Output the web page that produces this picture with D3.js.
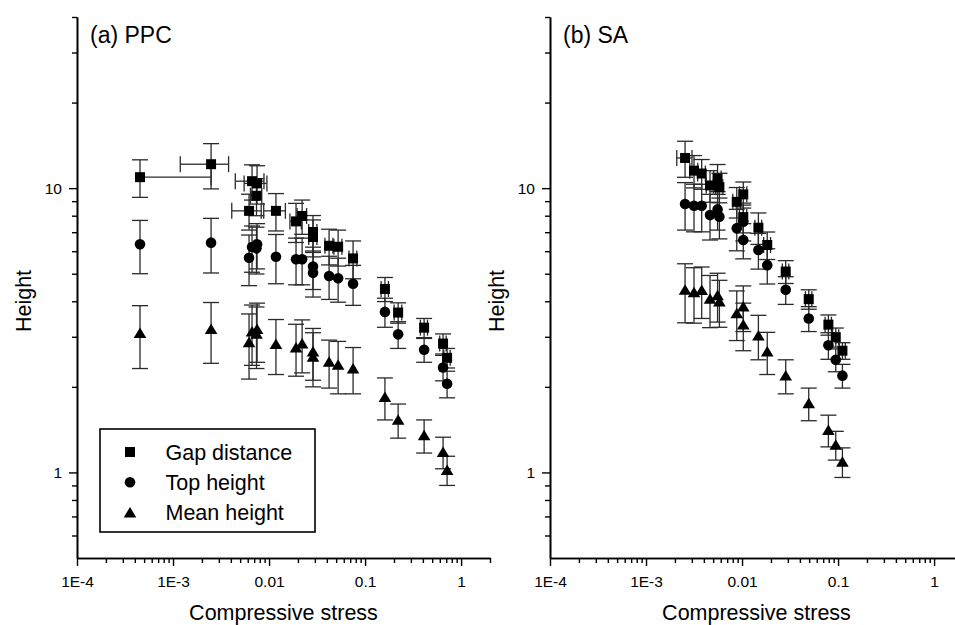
<!DOCTYPE html>
<html>
<head>
<meta charset="utf-8">
<script src="https://cdn.jsdelivr.net/npm/d3@7"></script>
<style>
  html, body { margin: 0; padding: 0; background: #fff; }
  svg { display: block; font-family: "Liberation Sans", Arial, Helvetica, sans-serif; }
</style>
</head>
<body>
<svg id="chart" width="955" height="625"></svg>
<script>
// ---- Panel (a): PPC ----
const ppcStress    = [4.53e-4, 2.49e-3, 6.19e-3, 6.65e-3, 7.5e-3, 7.4e-3, 0.0118, 0.0191, 0.0221, 0.0287, 0.0287, 0.0422, 0.0524, 0.075, 0.161, 0.221, 0.412, 0.649, 0.715];
const ppcStressErr = [2.04e-3, 1.3e-3, 2.1e-3, 2.2e-3, 2.0e-3, 1.0e-3, 3.0e-3, 2.6e-3, 2.5e-3, 2.8e-3, 2.8e-3, 4e-3, 5e-3, 7e-3, 0.014, 0.02, 0.035, 0.05, 0.055];
const ppcGap       = [10.93, 12.14, 8.32, 10.58, 10.39, 9.40, 8.32, 7.64, 7.98, 7.01, 6.73, 6.27, 6.22, 5.66, 4.42, 3.65, 3.23, 2.84, 2.53];
const ppcGapErr    = [1.65, 2.2, 1.2, 1.5, 1.6, 1.4, 1.25, 1.2, 1.1, 1.0, 1.0, 0.9, 0.9, 0.86, 0.43, 0.3, 0.25, 0.23, 0.2];
const ppcTop       = [6.35, 6.43, 5.69, 6.21, 6.35, 6.14, 5.74, 5.62, 5.62, 5.30, 5.04, 4.91, 4.82, 4.61, 3.67, 3.06, 2.70, 2.34, 2.05];
const ppcTopErr    = [1.35, 1.4, 1.15, 1.15, 1.15, 1.15, 1.13, 1.05, 1.05, 0.9, 0.9, 0.85, 0.85, 0.74, 0.43, 0.33, 0.26, 0.24, 0.22];
const ppcMean      = [3.09, 3.19, 2.87, 3.13, 3.19, 3.07, 2.83, 2.75, 2.84, 2.66, 2.55, 2.45, 2.39, 2.32, 1.84, 1.53, 1.35, 1.18, 1.02];
const ppcMeanErr   = [0.77, 0.77, 0.74, 0.75, 0.75, 0.75, 0.62, 0.57, 0.6, 0.55, 0.55, 0.47, 0.5, 0.43, 0.31, 0.21, 0.18, 0.15, 0.12];

// ---- Panel (b): SA ----
const saStress    = [2.55e-3, 3.16e-3, 3.80e-3, 4.64e-3, 5.56e-3, 5.81e-3, 8.81e-3, 0.0103, 0.0103, 0.0148, 0.0183, 0.0285, 0.0495, 0.0793, 0.0946, 0.111];
const saStressErr = [0.46e-3, 0.3e-3, 0.35e-3, 0.4e-3, 0.5e-3, 0.5e-3, 0.8e-3, 0.9e-3, 0.9e-3, 1.2e-3, 1.5e-3, 2.2e-3, 3.8e-3, 6e-3, 7e-3, 8e-3];
const saGap       = [12.77, 11.52, 11.26, 10.22, 10.81, 10.08, 8.95, 9.51, 7.91, 7.26, 6.31, 5.09, 4.07, 3.31, 2.99, 2.68];
const saGapErr    = [1.85, 1.5, 1.35, 1.3, 1.3, 1.2, 1.1, 1.0, 0.95, 0.92, 0.7, 0.47, 0.32, 0.27, 0.23, 0.18];
const saTop       = [8.79, 8.67, 8.67, 8.04, 8.42, 7.93, 7.22, 7.62, 6.57, 6.06, 5.36, 4.39, 3.48, 2.80, 2.49, 2.19];
const saTopErr    = [1.67, 1.65, 1.65, 1.47, 1.3, 1.3, 1.2, 1.1, 0.93, 0.87, 0.76, 0.49, 0.35, 0.3, 0.23, 0.21];
const saMean      = [4.39, 4.30, 4.38, 4.08, 4.20, 3.99, 3.63, 3.83, 3.31, 3.03, 2.66, 2.19, 1.75, 1.41, 1.25, 1.09];
const saMeanErr   = [1.03, 0.95, 0.9, 0.85, 0.82, 0.75, 0.72, 0.7, 0.63, 0.54, 0.45, 0.3, 0.23, 0.18, 0.145, 0.13];

// ---- Axis ticks and labels ----
const xTickValues = [1e-4, 1e-3, 1e-2, 1e-1, 1];
const xTickLabels = ["1E-4", "1E-3", "0.01", "0.1", "1"];
const yTickValues = [1, 10];
const yTickLabels = ["1", "10"];
const seriesNames = ["Gap distance", "Top height", "Mean height"];
const panelTitles = ["(a) PPC", "(b) SA"];
const xTitle = "Compressive stress";
const yTitle = "Height";

// minor ticks: 2..9 in every decade
function minorTicks(lo, hi) {
  const out = [];
  for (let e = Math.floor(Math.log10(lo)); e <= Math.ceil(Math.log10(hi)); e++) {
    for (let m = 2; m <= 9; m++) {
      const v = m * Math.pow(10, e);
      if (v > lo * 1.0001 && v <= hi * 1.0001) out.push(v);
    }
  }
  return out;
}

const svg = d3.select("#chart");
const INK = "#000";
const BAR = "#2a2a2a";
const CAP = 8;          // half width of error bar caps

// marker paths
const markerPath = {
  square: "M-5,-5H5V5H-5Z",
  circle: d3.path(),
  triangle: "M0,-5.6L6.3,4.9L-6.3,4.9Z"
};
(function () { const p = d3.path(); p.arc(0, 0, 5.3, 0, 2 * Math.PI); markerPath.circle = p.toString(); })();
const markerKinds = ["square", "circle", "triangle"];

function drawPanel(cfg) {
  const x = d3.scaleLog().domain([1e-4, 2]).range([cfg.left, cfg.left + 413]);
  const y = d3.scaleLog().domain([0.5, 40]).range([558, 17]);
  const g = svg.append("g");

  // --- axes ---
  const xMajor = d3.axisBottom(x).tickValues(xTickValues)
    .tickFormat((d, i) => xTickLabels[i]).tickSize(8).tickSizeOuter(0).tickPadding(10);
  const xMinor = d3.axisBottom(x).tickValues(minorTicks(1e-4, 2)).tickFormat("").tickSize(5).tickSizeOuter(0);
  const yMajor = d3.axisLeft(y).tickValues(yTickValues)
    .tickFormat((d, i) => yTickLabels[i]).tickSize(8).tickSizeOuter(0).tickPadding(7);
  const yMinor = d3.axisLeft(y).tickValues(minorTicks(0.5, 40).filter(v => v > 0.55)).tickFormat("").tickSize(5).tickSizeOuter(0);

  const ax = [
    g.append("g").attr("transform", "translate(0,558)").call(xMinor),
    g.append("g").attr("transform", "translate(0,558)").call(xMajor),
    g.append("g").attr("transform", `translate(${cfg.left},0)`).call(yMinor),
    g.append("g").attr("transform", `translate(${cfg.left},0)`).call(yMajor)
  ];
  ax.forEach(a => {
    a.selectAll("path.domain").attr("stroke", INK).attr("stroke-width", 1.6);
    a.selectAll(".tick line").attr("stroke", INK).attr("stroke-width", 1.4);
    a.selectAll(".tick text").attr("fill", INK).style("font-size", "15.5px")
      .style("font-family", '"Liberation Sans", Arial, sans-serif');
  });

  // axis titles
  g.append("text").attr("x", cfg.left + 206.5).attr("y", 620).attr("text-anchor", "middle")
    .style("font-size", "21.5px").attr("fill", INK).text(xTitle);
  g.append("text").attr("transform", `translate(${cfg.left - 46},301) rotate(-90)`)
    .attr("text-anchor", "middle").style("font-size", "21.5px").attr("fill", INK).text(yTitle);

  // panel title
  g.append("text").attr("x", cfg.left + 13).attr("y", 43).style("font-size", "23px")
    .attr("fill", INK).text(cfg.title);

  // --- data ---
  const series = [
    { vals: cfg.gap,  errs: cfg.gapErr,  kind: "square",   xerr: cfg.stressErr },
    { vals: cfg.top,  errs: cfg.topErr,  kind: "circle",   xerr: null },
    { vals: cfg.mean, errs: cfg.meanErr, kind: "triangle", xerr: null }
  ];

  const bars = g.append("g").attr("stroke", BAR).attr("stroke-width", 1.3).attr("fill", "none");
  series.forEach(s => {
    cfg.stress.forEach((sx, i) => {
      const cx = x(sx), v = s.vals[i], e = s.errs[i];
      const yt = y(v + e), yb = y(v - e);
      bars.append("line").attr("x1", cx).attr("x2", cx).attr("y1", yt).attr("y2", yb);
      bars.append("line").attr("x1", cx - CAP).attr("x2", cx + CAP).attr("y1", yt).attr("y2", yt);
      bars.append("line").attr("x1", cx - CAP).attr("x2", cx + CAP).attr("y1", yb).attr("y2", yb);
      if (s.xerr) {
        const cy = y(v), dx = s.xerr[i];
        const xr = x(sx + dx);
        bars.append("line").attr("x1", cx).attr("x2", xr).attr("y1", cy).attr("y2", cy);
        bars.append("line").attr("x1", xr).attr("x2", xr).attr("y1", cy - CAP).attr("y2", cy + CAP);
        if (sx - dx > 0) {
          const xl = x(sx - dx);
          bars.append("line").attr("x1", xl).attr("x2", cx).attr("y1", cy).attr("y2", cy);
          bars.append("line").attr("x1", xl).attr("x2", xl).attr("y1", cy - CAP).attr("y2", cy + CAP);
        }
      }
    });
  });

  series.forEach(s => {
    g.append("g").selectAll("path").data(cfg.stress).join("path")
      .attr("d", markerPath[s.kind])
      .attr("transform", (d, i) => `translate(${x(d)},${y(s.vals[i])})`)
      .attr("fill", INK);
  });

  return g;
}

drawPanel({
  left: 77, title: panelTitles[0],
  stress: ppcStress, stressErr: ppcStressErr,
  gap: ppcGap, gapErr: ppcGapErr, top: ppcTop, topErr: ppcTopErr, mean: ppcMean, meanErr: ppcMeanErr
});
drawPanel({
  left: 550, title: panelTitles[1],
  stress: saStress, stressErr: saStressErr,
  gap: saGap, gapErr: saGapErr, top: saTop, topErr: saTopErr, mean: saMean, meanErr: saMeanErr
});

// --- legend in panel (a) ---
const legend = svg.append("g");
legend.append("rect").attr("x", 100).attr("y", 429).attr("width", 215).attr("height", 103)
  .attr("fill", "#fff").attr("stroke", INK).attr("stroke-width", 1.6);
seriesNames.forEach((name, i) => {
  const cy = 452 + i * 30.3;
  legend.append("path").attr("d", markerPath[markerKinds[i]])
    .attr("transform", `translate(130,${cy})`).attr("fill", INK);
  legend.append("text").attr("x", 165.5).attr("y", cy + 7.5).style("font-size", "21.5px")
    .attr("fill", INK).text(name);
});
</script>
</body>
</html>
